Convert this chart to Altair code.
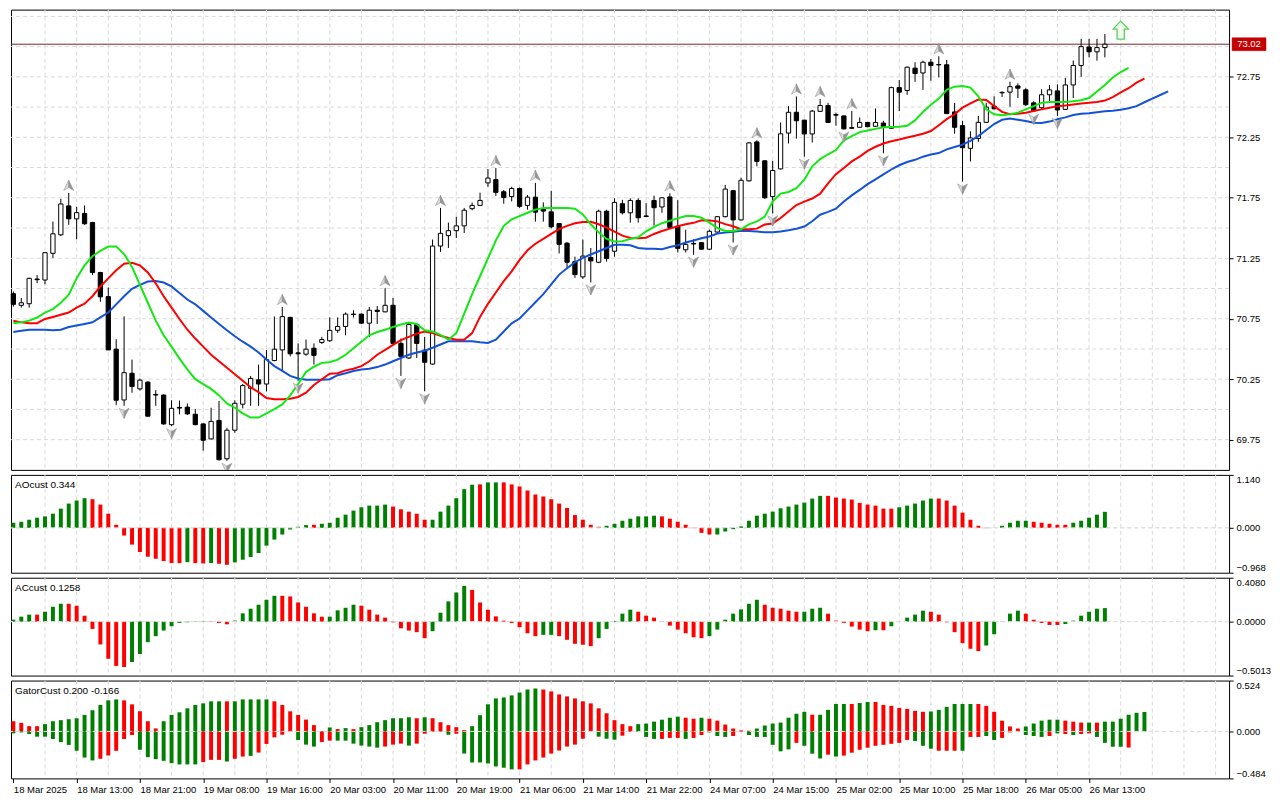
import altair as alt
import pandas as pd

# ---------------- data ----------------
time_labels = ["18 Mar 2025", "18 Mar 13:00", "18 Mar 21:00", "19 Mar 08:00", "19 Mar 16:00",
               "20 Mar 03:00", "20 Mar 11:00", "20 Mar 19:00", "21 Mar 06:00", "21 Mar 14:00",
               "21 Mar 22:00", "24 Mar 07:00", "24 Mar 15:00", "25 Mar 02:00", "25 Mar 10:00",
               "25 Mar 18:00", "26 Mar 05:00", "26 Mar 13:00"]

price_ticks = [69.75, 70.00, 70.25, 70.50, 70.75, 71.00, 71.25, 71.50, 71.75, 72.00,
               72.25, 72.50, 72.75, 73.00, 73.25]
current_price = 73.02

opens = [
    70.957, 70.861, 70.874, 71.078, 71.070, 71.291, 71.444, 71.683, 71.576, 71.621,
    71.546, 71.132, 70.933, 70.498, 70.078, 70.299, 70.170, 70.226, 70.124, 70.119,
    69.874, 70.017, 70.019, 69.960, 69.880, 69.756, 69.909, 69.592, 69.828, 70.043,
    70.175, 70.245, 70.210, 70.404, 70.492, 70.761, 70.468, 70.457, 70.506, 70.554,
    70.568, 70.654, 70.686, 70.788, 70.788, 70.713, 70.820, 70.807, 70.861, 70.546,
    70.425, 70.702, 70.490, 70.375, 71.351, 71.437, 71.478, 71.518, 71.660, 71.687,
    71.873, 71.900, 71.800, 71.760, 71.827, 71.687, 71.755, 71.660, 71.634, 71.537,
    71.375, 71.222, 71.096, 71.257, 71.217, 71.639, 71.308, 71.701, 71.626, 71.728,
    71.600, 71.728, 71.674, 71.757, 71.515, 71.320, 71.373, 71.379, 71.325, 71.467,
    71.594, 71.809, 71.567, 71.890, 72.212, 72.056, 71.760, 71.989, 72.285, 72.457,
    72.392, 72.278, 72.465, 72.513, 72.438, 72.427, 72.330, 72.333, 72.373, 72.341,
    72.368, 72.325, 72.661, 72.637, 72.822, 72.782, 72.871, 72.852, 72.850, 72.460,
    72.347, 72.159, 72.240, 72.374, 72.508, 72.618, 72.624, 72.675, 72.643, 72.535,
    72.495, 72.602, 72.634, 72.481, 72.683, 72.844, 72.997, 72.957, 72.992]
highs = [
    70.975, 70.922, 71.089, 71.111, 71.299, 71.554, 71.742, 71.791, 71.675, 71.686,
    71.551, 71.138, 71.008, 70.581, 70.769, 70.412, 70.256, 70.232, 70.159, 70.124,
    70.076, 70.073, 70.049, 70.003, 69.885, 70.014, 70.070, 69.847, 70.076, 70.210,
    70.277, 70.371, 70.492, 70.769, 70.847, 70.767, 70.546, 70.578, 70.546, 70.600,
    70.761, 70.761, 70.802, 70.820, 70.793, 70.847, 70.855, 71.003, 70.922, 70.587,
    70.721, 70.705, 70.600, 71.405, 71.666, 71.545, 71.593, 71.666, 71.711, 71.792,
    71.988, 71.996, 71.814, 71.841, 71.835, 71.773, 71.873, 71.712, 71.808, 71.540,
    71.384, 71.263, 71.405, 71.335, 71.652, 71.652, 71.746, 71.733, 71.746, 71.746,
    71.706, 71.768, 71.755, 71.787, 71.730, 71.486, 71.406, 71.385, 71.486, 71.599,
    71.857, 71.814, 71.916, 72.212, 72.226, 72.060, 72.056, 72.373, 72.508, 72.588,
    72.395, 72.476, 72.567, 72.535, 72.454, 72.430, 72.467, 72.414, 72.378, 72.489,
    72.387, 72.669, 72.723, 72.836, 72.871, 72.884, 72.898, 72.920, 72.890, 72.535,
    72.387, 72.300, 72.427, 72.535, 72.589, 72.629, 72.710, 72.696, 72.656, 72.548,
    72.648, 72.683, 72.688, 72.742, 72.885, 73.064, 73.064, 73.064, 73.105]
lows = [
    70.850, 70.842, 70.842, 71.044, 71.035, 71.253, 71.433, 71.527, 71.406, 71.527,
    71.111, 70.890, 70.492, 70.035, 70.030, 70.138, 70.156, 69.939, 70.030, 69.874,
    69.861, 69.960, 69.955, 69.869, 69.659, 69.753, 69.578, 69.575, 69.807, 70.009,
    70.030, 70.030, 70.148, 70.398, 70.318, 70.439, 70.237, 70.444, 70.371, 70.541,
    70.560, 70.632, 70.613, 70.761, 70.707, 70.600, 70.707, 70.802, 70.541, 70.277,
    70.417, 70.425, 70.150, 70.370, 71.303, 71.335, 71.418, 71.459, 71.647, 71.685,
    71.841, 71.765, 71.701, 71.720, 71.666, 71.652, 71.553, 71.553, 71.497, 71.290,
    71.169, 71.088, 71.080, 71.050, 71.209, 71.222, 71.263, 71.612, 71.545, 71.545,
    71.590, 71.520, 71.626, 71.500, 71.298, 71.298, 71.279, 71.320, 71.320, 71.460,
    71.588, 71.380, 71.562, 71.884, 72.010, 71.742, 71.621, 71.984, 72.199, 72.239,
    72.090, 72.207, 72.459, 72.368, 72.346, 72.314, 72.320, 72.328, 72.333, 72.338,
    72.118, 72.320, 72.467, 72.602, 72.709, 72.642, 72.718, 72.745, 72.446, 72.280,
    71.884, 72.050, 72.213, 72.368, 72.480, 72.584, 72.503, 72.575, 72.508, 72.460,
    72.481, 72.548, 72.427, 72.476, 72.575, 72.750, 72.911, 72.884, 72.911]
closes = [
    70.869, 70.882, 71.084, 71.073, 71.296, 71.452, 71.699, 71.576, 71.627, 71.535,
    71.132, 70.931, 70.492, 70.076, 70.304, 70.189, 70.242, 69.944, 70.119, 69.880,
    70.009, 70.011, 69.963, 69.874, 69.745, 69.901, 69.584, 69.828, 70.051, 70.197,
    70.256, 70.210, 70.412, 70.498, 70.767, 70.460, 70.460, 70.498, 70.447, 70.578,
    70.654, 70.686, 70.788, 70.785, 70.713, 70.820, 70.810, 70.861, 70.546, 70.439,
    70.702, 70.546, 70.390, 71.351, 71.456, 71.478, 71.518, 71.647, 71.687, 71.728,
    71.913, 71.795, 71.752, 71.827, 71.679, 71.755, 71.631, 71.640, 71.510, 71.365,
    71.217, 71.115, 71.268, 71.228, 71.639, 71.249, 71.712, 71.626, 71.728, 71.585,
    71.595, 71.668, 71.750, 71.505, 71.332, 71.365, 71.368, 71.325, 71.473, 71.594,
    71.822, 71.567, 71.895, 72.204, 72.051, 71.750, 71.976, 72.279, 72.457, 72.387,
    72.278, 72.467, 72.513, 72.373, 72.433, 72.320, 72.325, 72.373, 72.338, 72.373,
    72.341, 72.661, 72.623, 72.830, 72.777, 72.871, 72.844, 72.849, 72.446, 72.333,
    72.164, 72.245, 72.374, 72.500, 72.486, 72.622, 72.669, 72.656, 72.520, 72.468,
    72.602, 72.642, 72.476, 72.683, 72.844, 73.000, 72.957, 72.992, 73.020]

# Alligator lines as displayed (already shifted)
jaw = [
    70.640, 70.650, 70.659, 70.659, 70.659, 70.654, 70.659, 70.681, 70.694, 70.707,
    70.721, 70.761, 70.801, 70.869, 70.936, 70.998, 71.030, 71.057, 71.062, 71.049,
    71.017, 70.963, 70.909, 70.869, 70.815, 70.761, 70.707, 70.654, 70.605, 70.560,
    70.519, 70.471, 70.412, 70.358, 70.318, 70.277, 70.256, 70.245, 70.245, 70.245,
    70.250, 70.283, 70.299, 70.318, 70.331, 70.336, 70.350, 70.371, 70.398, 70.425,
    70.452, 70.471, 70.485, 70.510, 70.537, 70.564, 70.564, 70.564, 70.564, 70.556,
    70.550, 70.577, 70.644, 70.712, 70.752, 70.819, 70.886, 70.953, 71.034, 71.115,
    71.168, 71.217, 71.254, 71.281, 71.308, 71.335, 71.362, 71.362, 71.357, 71.335,
    71.328, 71.328, 71.325, 71.343, 71.357, 71.380, 71.397, 71.415, 71.430, 71.455,
    71.462, 71.470, 71.478, 71.475, 71.472, 71.465, 71.465, 71.472, 71.482, 71.494,
    71.512, 71.556, 71.610, 71.633, 71.660, 71.720, 71.770, 71.815, 71.863, 71.903,
    71.943, 71.984, 72.019, 72.046, 72.064, 72.090, 72.108, 72.120, 72.150, 72.170,
    72.190, 72.220, 72.260, 72.310, 72.360, 72.395, 72.405, 72.395, 72.385, 72.370,
    72.368, 72.380, 72.400, 72.415, 72.435, 72.445, 72.450, 72.458, 72.465, 72.470,
    72.478, 72.490, 72.508, 72.540, 72.570, 72.600, 72.630]
teeth = [
    70.734, 70.720, 70.713, 70.713, 70.748, 70.765, 70.783, 70.801, 70.842, 70.874,
    70.936, 71.017, 71.084, 71.151, 71.205, 71.213, 71.191, 71.132, 71.043, 70.936,
    70.842, 70.748, 70.659, 70.586, 70.519, 70.452, 70.398, 70.345, 70.291, 70.237,
    70.183, 70.143, 70.094, 70.084, 70.084, 70.089, 70.103, 70.138, 70.202, 70.250,
    70.296, 70.300, 70.323, 70.336, 70.358, 70.398, 70.452, 70.492, 70.533, 70.573,
    70.600, 70.627, 70.645, 70.631, 70.609, 70.590, 70.577, 70.577, 70.631, 70.765,
    70.873, 70.967, 71.061, 71.142, 71.236, 71.316, 71.370, 71.410, 71.451, 71.491,
    71.518, 71.539, 71.550, 71.552, 71.531, 71.504, 71.470, 71.437, 71.418, 71.415,
    71.420, 71.451, 71.475, 71.495, 71.515, 71.531, 71.543, 71.564, 71.562, 71.555,
    71.532, 71.515, 71.490, 71.490, 71.495, 71.529, 71.538, 71.583, 71.636, 71.690,
    71.718, 71.744, 71.784, 71.870, 71.945, 71.997, 72.051, 72.090, 72.138, 72.172,
    72.199, 72.218, 72.232, 72.248, 72.263, 72.280, 72.302, 72.350, 72.400, 72.441,
    72.495, 72.530, 72.562, 72.558, 72.508, 72.460, 72.441, 72.445, 72.454, 72.468,
    72.481, 72.495, 72.508, 72.513, 72.521, 72.530, 72.535, 72.543, 72.554, 72.583,
    72.621, 72.656, 72.702, 72.736]
lips = [
    70.713, 70.720, 70.734, 70.760, 70.801, 70.830, 70.882, 70.949, 71.084, 71.191,
    71.267, 71.312, 71.347, 71.347, 71.285, 71.178, 71.030, 70.882, 70.734, 70.613,
    70.519, 70.420, 70.331, 70.250, 70.210, 70.170, 70.116, 70.049, 70.014, 69.968,
    69.933, 69.933, 69.968, 70.003, 70.041, 70.116, 70.210, 70.310, 70.353, 70.385,
    70.390, 70.412, 70.452, 70.506, 70.560, 70.613, 70.640, 70.659, 70.681, 70.702,
    70.718, 70.707, 70.654, 70.644, 70.617, 70.577, 70.631, 70.792, 70.953, 71.101,
    71.249, 71.397, 71.518, 71.572, 71.599, 71.626, 71.652, 71.666, 71.666, 71.666,
    71.666, 71.660, 71.612, 71.531, 71.464, 71.410, 71.389, 71.390, 71.410, 71.424,
    71.473, 71.510, 71.540, 71.560, 71.580, 71.600, 71.600, 71.585, 71.545, 71.500,
    71.475, 71.475, 71.490, 71.530, 71.555, 71.594, 71.720, 71.785, 71.798, 71.830,
    71.900, 72.010, 72.070, 72.110, 72.145, 72.225, 72.260, 72.293, 72.306, 72.320,
    72.333, 72.335, 72.338, 72.345, 72.390, 72.460, 72.520, 72.570, 72.642, 72.669,
    72.675, 72.661, 72.589, 72.481, 72.441, 72.433, 72.441, 72.454, 72.481, 72.508,
    72.535, 72.543, 72.543, 72.543, 72.548, 72.556, 72.575, 72.629, 72.683, 72.745,
    72.790, 72.825]

fractal_up_bars = [7, 34, 47, 54, 61, 66, 83, 94, 99, 102, 106, 117, 126]
fractal_dn_bars = [14, 20, 27, 36, 49, 52, 73, 86, 91, 96, 100, 105, 110, 120, 129, 132]
signal_bar = [140]
signal_price = [73.137]

ao_label = "AOcust 0.344"
ao_values = [
    0.109, 0.130, 0.174, 0.217, 0.246, 0.304, 0.413, 0.522, 0.587, 0.638,
    0.616, 0.500, 0.304, 0.065, -0.167, -0.362, -0.522, -0.623, -0.667, -0.717,
    -0.761, -0.761, -0.739, -0.761, -0.768, -0.761, -0.775, -0.797, -0.746, -0.688,
    -0.630, -0.543, -0.384, -0.254, -0.145, -0.036, 0.022, 0.058, 0.065, 0.087,
    0.109, 0.217, 0.283, 0.370, 0.442, 0.478, 0.478, 0.500, 0.457, 0.399,
    0.348, 0.304, 0.174, 0.174, 0.348, 0.478, 0.638, 0.833, 0.928, 0.935,
    0.978, 0.978, 0.978, 0.935, 0.891, 0.804, 0.717, 0.674, 0.616, 0.522,
    0.428, 0.275, 0.174, 0.065, 0.022, 0.043, 0.087, 0.152, 0.196, 0.246,
    0.246, 0.261, 0.246, 0.196, 0.130, 0.065, -0.007, -0.109, -0.145, -0.145,
    -0.080, -0.029, 0.029, 0.152, 0.261, 0.304, 0.348, 0.420, 0.457, 0.500,
    0.543, 0.630, 0.688, 0.688, 0.652, 0.630, 0.609, 0.536, 0.500, 0.478,
    0.413, 0.413, 0.442, 0.478, 0.522, 0.587, 0.630, 0.630, 0.587, 0.478,
    0.326, 0.174, 0.043, -0.007, 0.002, 0.043, 0.109, 0.152, 0.152, 0.130,
    0.109, 0.087, 0.065, 0.065, 0.109, 0.152, 0.217, 0.283, 0.344]
ao_colors = list(
    "gggggggggg" "rrrrrrrrrrrr" "g" "rr" "g" "rr" "gggggggggg" "r" "ggggggggg" "rrrrr"
    "gggggg" "r" "gg" "rrrrrrrrrrrrr" "ggggggg" "rrrrrrr" "gggggggggggggg" "rrrrrrrrr"
    "ggggg" "rrrrrrr" "ggggg" "rrrrr" "ggggg")
ao_range = [-0.968, 1.140]

ac_label = "ACcust 0.1258"
ac_values = [
    0.018, 0.046, 0.065, 0.065, 0.092, 0.138, 0.166, 0.166, 0.148, 0.055,
    -0.068, -0.212, -0.345, -0.412, -0.422, -0.375, -0.302, -0.191, -0.135, -0.083,
    -0.043, -0.012, -0.006, -0.003, 0.003, -0.003, -0.012, -0.025, 0.009, 0.077,
    0.120, 0.157, 0.203, 0.240, 0.240, 0.234, 0.178, 0.138, 0.077, 0.046,
    0.046, 0.105, 0.129, 0.157, 0.148, 0.111, 0.065, 0.037, -0.006, -0.062,
    -0.083, -0.098, -0.154, -0.089, 0.083, 0.188, 0.271, 0.332, 0.295, 0.178,
    0.111, 0.049, 0.009, -0.012, -0.052, -0.108, -0.135, -0.123, -0.123, -0.135,
    -0.169, -0.206, -0.215, -0.228, -0.154, -0.068, 0.006, 0.074, 0.111, 0.092,
    0.055, 0.037, -0.003, -0.037, -0.074, -0.108, -0.145, -0.154, -0.135, -0.074,
    0.018, 0.074, 0.114, 0.166, 0.203, 0.157, 0.129, 0.120, 0.102, 0.092,
    0.092, 0.120, 0.129, 0.074, 0.009, -0.012, -0.046, -0.074, -0.089, -0.080,
    -0.080, -0.043, 0.001, 0.037, 0.065, 0.102, 0.092, 0.065, -0.006, -0.098,
    -0.200, -0.252, -0.274, -0.222, -0.117, 0.002, 0.074, 0.102, 0.074, 0.018,
    -0.012, -0.031, -0.031, -0.022, 0.009, 0.055, 0.092, 0.120, 0.1258]
ac_colors = list(
    "gggrgggrrr" "rrrrrggggg" "gggggrrrgg" "ggggrrrrrr" "ggggrrrrrr" "rrrgggggrr"
    "rrrrrrrggr" "rrrrgggggr" "rrrrrrrrgg" "gggggrrrrr" "gggrrrrrrg" "rgggggrrrr"
    "rrrgggggrr" "rrrgggggg")
ac_range = [-0.5013, 0.4080]

gator_label = "GatorCust 0.200 -0.166"
gator_up = [
    0.105, 0.088, 0.054, 0.054, 0.075, 0.105, 0.116, 0.126, 0.136, 0.170,
    0.218, 0.272, 0.320, 0.330, 0.320, 0.279, 0.207, 0.105, 0.031, 0.105,
    0.170, 0.197, 0.238, 0.272, 0.289, 0.310, 0.310, 0.310, 0.310, 0.330,
    0.330, 0.330, 0.330, 0.310, 0.272, 0.207, 0.170, 0.122, 0.065, 0.003,
    0.041, 0.024, 0.034, 0.024, 0.044, 0.065, 0.095, 0.116, 0.136, 0.136,
    0.146, 0.136, 0.146, 0.136, 0.095, 0.065, 0.044, 0.014, 0.054, 0.167,
    0.279, 0.340, 0.350, 0.371, 0.401, 0.432, 0.442, 0.432, 0.412, 0.381,
    0.361, 0.340, 0.310, 0.289, 0.238, 0.187, 0.116, 0.075, 0.054, 0.075,
    0.081, 0.101, 0.121, 0.141, 0.152, 0.141, 0.131, 0.141, 0.131, 0.111,
    0.071, 0.030, 0.010, 0.007, 0.030, 0.061, 0.081, 0.091, 0.141, 0.182,
    0.202, 0.172, 0.172, 0.222, 0.283, 0.283, 0.283, 0.293, 0.303, 0.303,
    0.273, 0.263, 0.242, 0.232, 0.212, 0.202, 0.205, 0.222, 0.253, 0.283,
    0.283, 0.283, 0.283, 0.263, 0.202, 0.111, 0.051, 0.030, 0.051, 0.081,
    0.111, 0.121, 0.121, 0.111, 0.101, 0.091, 0.091, 0.091, 0.101, 0.101,
    0.131, 0.172, 0.192, 0.200]
gator_up_colors = list(
    "rrrrgggggg" "ggggrrrrrg" "gggggggrgg" "gggrrrrrrr" "grgrgggggg" "grgrrrrrgg"
    "gggggggrrr" "rrrrrrrrrg" "gggggrrgrr" "rrrrgggggg" "grggggrggr" "rrrrrrgggg"
    "ggrrrrrrgg" "gggrrrgrgg" "gggg")
gator_dn = [
    -0.020, -0.010, -0.027, -0.054, -0.054, -0.078, -0.109, -0.139, -0.200, -0.269,
    -0.299, -0.282, -0.248, -0.200, -0.078, -0.037, -0.190, -0.265, -0.286, -0.303,
    -0.327, -0.340, -0.340, -0.340, -0.316, -0.293, -0.293, -0.310, -0.282, -0.259,
    -0.252, -0.218, -0.129, -0.061, -0.034, -0.003, -0.088, -0.136, -0.156, -0.109,
    -0.095, -0.095, -0.095, -0.126, -0.146, -0.156, -0.167, -0.156, -0.136, -0.126,
    -0.146, -0.126, -0.024, -0.003, -0.003, -0.034, -0.024, -0.228, -0.320, -0.320,
    -0.330, -0.361, -0.374, -0.391, -0.391, -0.340, -0.299, -0.269, -0.228, -0.197,
    -0.156, -0.136, -0.075, -0.003, -0.054, -0.075, -0.085, -0.044, -0.003, -0.003,
    -0.057, -0.077, -0.077, -0.067, -0.067, -0.077, -0.067, -0.037, -0.010, -0.047,
    -0.057, -0.047, -0.003, -0.037, -0.057, -0.057, -0.138, -0.205, -0.185, -0.118,
    -0.148, -0.229, -0.279, -0.239, -0.259, -0.249, -0.219, -0.189, -0.168, -0.148,
    -0.138, -0.128, -0.118, -0.088, -0.098, -0.148, -0.178, -0.199, -0.199, -0.199,
    -0.199, -0.057, -0.057, -0.047, -0.088, -0.067, -0.010, -0.003, -0.037, -0.047,
    -0.057, -0.047, -0.020, -0.027, -0.037, -0.027, -0.020, -0.057, -0.118, -0.158,
    -0.158, -0.166]
gator_dn_colors = list(
    "gggggggggg" "grrrrrgggg" "ggggrrrgrr" "grrrrrgggr" "rggggggrrr" "grrrggrggg"
    "ggggrrrrrr" "rrrrgggrrg" "ggrrrgrrgg" "grrggggggr" "gggrgrrrrr" "rrrrgggrrr"
    "grrggrrrgg" "grgrgrrggg" "gr")
gator_range = [-0.484, 0.524]

# ---------------- layout / style ----------------
W = 1220
H_MAIN = 461
H_IND = 98
FONT = "Liberation Sans"
FS = 9.5
GRID = "#d9d9d9"
GREEN = "#008000"
RED = "#ff0000"
X_DOMAIN = [-0.3, 153.7]
HALF = 0.27
U = alt.Undefined

xs = alt.Scale(domain=X_DOMAIN, nice=False, zero=False)
vgrid_df = pd.DataFrame({"i": list(range(4, 154, 4))})


def right_axis(values, fmt, flush=False):
    kw = dict(orient="right", values=values, format=fmt, grid=False, domain=False,
              ticks=True, tickSize=4, tickColor="black", labelColor="black",
              labelFont=FONT, labelFontSize=FS, labelPadding=3, title=None)
    if flush:
        kw["labelFlush"] = True
    return alt.Axis(**kw)


def vgrid(xa):
    return alt.Chart(vgrid_df).mark_rule(color=GRID, strokeDash=[4, 3], strokeWidth=1).encode(
        x=alt.X("i:Q", scale=xs, axis=xa))


# ---------------- main price panel ----------------
ys_main = alt.Scale(domain=[69.50, 73.306], nice=False, zero=False)
NOX = None  # the price panel has no time axis of its own

hgrid = alt.Chart(pd.DataFrame({"p": price_ticks})).mark_rule(
    color=GRID, strokeDash=[4, 3], strokeWidth=1).encode(
    y=alt.Y("p:Q", scale=ys_main,
            axis=right_axis([p for p in price_ticks if abs(p - 73.0) > 1e-9], ".2f")))

price_line = alt.Chart(pd.DataFrame({"p": [current_price]})).mark_rule(
    color="#6e2a2a", strokeWidth=1).encode(y=alt.Y("p:Q", scale=ys_main))

candles = pd.DataFrame({"i": list(range(len(opens))), "o": opens, "h": highs, "l": lows, "c": closes})

wicks = alt.Chart(candles).mark_rule(color="black", strokeWidth=1).encode(
    x=alt.X("i:Q", scale=xs, axis=NOX),
    y=alt.Y("l:Q", scale=ys_main), y2="h:Q")

bodies = alt.Chart(candles).transform_calculate(
    x0=f"datum.i - {HALF}", x1=f"datum.i + {HALF}").mark_rect(stroke="black", strokeWidth=1).encode(
    x=alt.X("x0:Q", scale=xs, axis=NOX), x2="x1:Q",
    y=alt.Y("o:Q", scale=ys_main), y2="c:Q",
    fill=alt.condition("datum.c >= datum.o", alt.value("white"), alt.value("black")))


def line(values, color):
    df = pd.DataFrame({"i": list(range(len(values))), "v": values})
    return alt.Chart(df).mark_line(color=color, strokeWidth=2).encode(
        x=alt.X("i:Q", scale=xs, axis=NOX), y=alt.Y("v:Q", scale=ys_main))


UP_L = "M0,-2.4L-0.95,-0.45L0,-1.0Z"
UP_R = "M0,-2.4L0.95,-0.45L0,-1.0Z"
DN_L = "M0,2.4L-0.95,0.45L0,1.0Z"
DN_R = "M0,2.4L0.95,0.45L0,1.0Z"

up_df = pd.DataFrame({"i": fractal_up_bars, "p": [highs[k] for k in fractal_up_bars]})
dn_df = pd.DataFrame({"i": fractal_dn_bars, "p": [lows[k] for k in fractal_dn_bars]})


def fractal(df, shape, fill):
    return alt.Chart(df).mark_point(shape=shape, size=110, filled=True, fill=fill,
                                    stroke="#8a8a8a", strokeWidth=0.5, opacity=1, clip=True).encode(
        x=alt.X("i:Q", scale=xs, axis=NOX), y=alt.Y("p:Q", scale=ys_main))


SIG = "M0,-2L1.7,-0.2L0.8,-0.2L0.8,2L-0.8,2L-0.8,-0.2L-1.7,-0.2Z"
signal = alt.Chart(pd.DataFrame({"i": signal_bar, "p": signal_price})).mark_point(
    shape=SIG, size=81, filled=True, fill="#effcef", stroke="#5ccf5c", strokeWidth=1.3,
    opacity=1).encode(x=alt.X("i:Q", scale=xs, axis=NOX), y=alt.Y("p:Q", scale=ys_main))

lbl_df = pd.DataFrame({"p": [current_price], "t": [f"{current_price:.2f}"]})
price_box = alt.Chart(lbl_df).mark_point(
    shape="M-1,-0.38L1,-0.38L1,0.38L-1,0.38Z", size=1156, filled=True, fill="#c40000",
    stroke="#c40000", strokeWidth=0.5, opacity=1).encode(
    x=alt.value(W + 20), y=alt.Y("p:Q", scale=ys_main))
price_txt = alt.Chart(lbl_df).mark_text(color="white", font=FONT, fontSize=FS, align="center",
                                        baseline="middle").encode(
    x=alt.value(W + 20), y=alt.Y("p:Q", scale=ys_main), text="t:N")

main = alt.layer(
    hgrid, vgrid(NOX), price_line, wicks, bodies,
    line(jaw, "#1352d6"), line(teeth, "#ff0000"), line(lips, "#12e812"),
    fractal(up_df, UP_L, "#dadada"), fractal(up_df, UP_R, "#979797"),
    fractal(dn_df, DN_L, "#dadada"), fractal(dn_df, DN_R, "#979797"),
    signal, price_box, price_txt,
).properties(width=W, height=H_MAIN)


# ---------------- indicator panels ----------------
def hist_layer(values, colors, ys, xa):
    df = pd.DataFrame({"i": list(range(len(values))), "v": values, "col": colors})
    return alt.Chart(df).transform_calculate(
        x0="datum.i - 0.25", x1="datum.i + 0.25").mark_rect().encode(
        x=alt.X("x0:Q", scale=xs, axis=xa), x2="x1:Q",
        y=alt.Y("v:Q", scale=ys), y2=alt.datum(0),
        fill=alt.Fill("col:N", scale=alt.Scale(domain=["g", "r"], range=[GREEN, RED]), legend=None))


def zero_line(ys, axis=U):
    return alt.Chart(pd.DataFrame({"v": [0]})).mark_rule(
        color="#dedede", strokeDash=[4, 3], strokeWidth=1).encode(y=alt.Y("v:Q", scale=ys, axis=axis))


def header(text):
    return alt.Chart(pd.DataFrame({"t": [text]})).mark_text(
        align="left", baseline="top", font=FONT, fontSize=10, color="black").encode(
        x=alt.value(4), y=alt.value(5), text="t:N")


def panel(series, rng, fmt, label, height, time_axis=None):
    ys = alt.Scale(domain=rng, nice=False, zero=False)
    # without a time axis every x encoding drops its axis; with one, only the grid layer defines it
    other_x = None if time_axis is None else U
    layers = [zero_line(ys, right_axis([rng[1], 0, rng[0]], fmt, flush=True)), vgrid(time_axis)]
    for vals, cols in series:
        layers.append(hist_layer(vals, cols, ys, other_x))
    layers += [zero_line(ys), header(label)]
    return alt.layer(*layers).properties(width=W, height=height)


label_bars = list(range(0, 8 * len(time_labels), 8))
expr = "''"
for b, t in reversed(list(zip(label_bars, time_labels))):
    expr = f"datum.value == {b} ? '{t}' : ({expr})"

time_ax = alt.Axis(
    values=label_bars, labelExpr=expr, labelAlign="left", labelBaseline="top",
    labelPadding=2, tickSize=4, tickColor="black", labelColor="black", labelFont=FONT,
    labelFontSize=FS, grid=False, domain=False, title=None, labelFlush=False)

ao_panel = panel([(ao_values, ao_colors)], ao_range, ".3f", ao_label, H_IND)
ac_panel = panel([(ac_values, ac_colors)], ac_range, ".4f", ac_label, H_IND)
gator_panel = panel([(gator_up, gator_up_colors), (gator_dn, gator_dn_colors)],
                    gator_range, ".3f", gator_label, H_IND, time_axis=time_ax)

chart = alt.vconcat(main, ao_panel, ac_panel, gator_panel, spacing=3).properties(
    padding=0, background="white"
).configure_view(stroke="black", strokeWidth=1)

chart.save("out.html", embed_options={"renderer": "svg", "actions": False})
